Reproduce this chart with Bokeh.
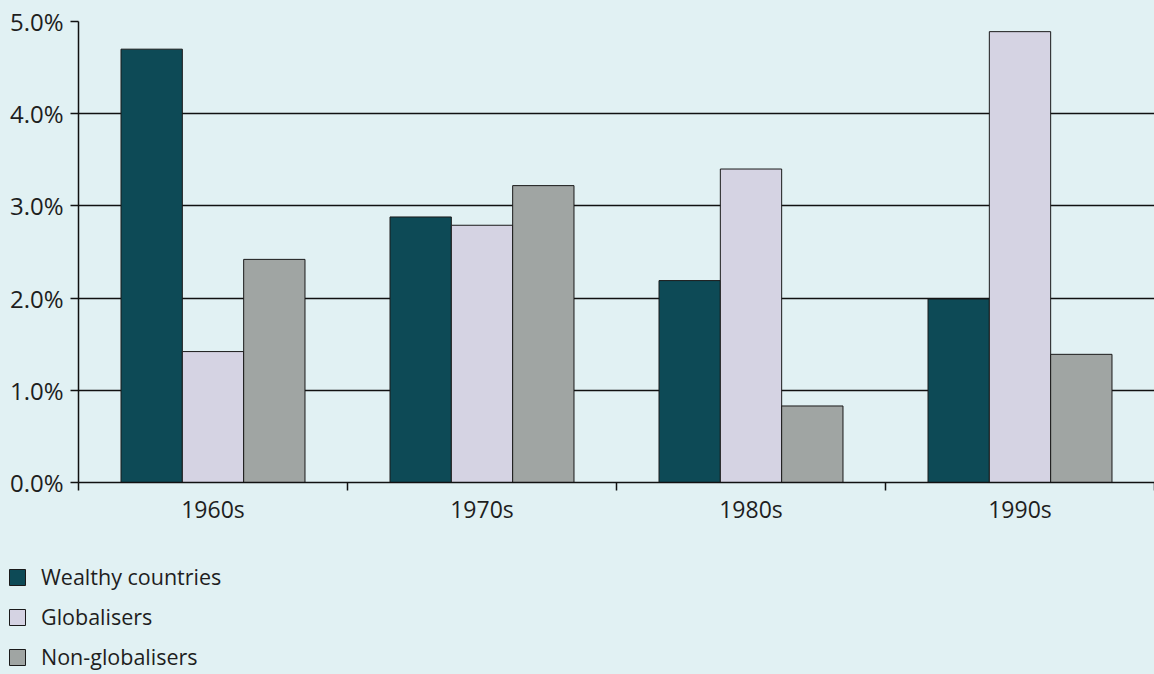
from bokeh.plotting import figure
from bokeh.layouts import column, row
from bokeh.models import FixedTicker, Legend, LegendItem, Range1d
from bokeh.embed import file_html
from bokeh.resources import INLINE

categories = ["1960s", "1970s", "1980s", "1990s"]
wealthy = [4.70, 2.88, 2.19, 1.99]
globalisers = [1.42, 2.79, 3.40, 4.89]
non_globalisers = [2.42, 3.22, 0.83, 1.39]
series_names = ["Wealthy countries", "Globalisers", "Non-globalisers"]
y_ticks = [0, 1, 2, 3, 4, 5]

colors = ["#0d4a56", "#d5d3e3", "#a0a5a3"]
BG = "#e1f1f3"
FONT = "Open Sans"
INK = "#111111"
TXT = "#1e1e1e"

p = figure(width=1154, height=540, output_backend="svg", toolbar_location=None,
           x_range=Range1d(0, len(categories)), y_range=Range1d(0, 5),
           min_border_left=78, min_border_right=0, min_border_top=21,
           min_border_bottom=58)
p.background_fill_color = BG
p.border_fill_color = BG
p.outline_line_color = None

centers = [i + 0.5 for i in range(len(categories))]
width = 0.228
offsets = [-width, 0, width]
series = [wealthy, globalisers, non_globalisers]
for vals, off, col in zip(series, offsets, colors):
    p.vbar(x=[c + off for c in centers], top=vals, bottom=0, width=width,
           fill_color=col, line_color="#1a1a1a", line_width=1)

# x axis: labels at centres, ticks at category boundaries
p.xaxis.ticker = FixedTicker(ticks=centers, minor_ticks=list(range(len(categories) + 1)))
p.xaxis.major_label_overrides = {c: lab for c, lab in zip(centers, categories)}
p.xaxis.major_tick_out = 0
p.xaxis.major_tick_in = 0
p.xaxis.minor_tick_out = 8
p.xaxis.minor_tick_in = 0
p.xaxis.minor_tick_line_color = INK
p.xaxis.minor_tick_line_width = 1.5
p.xaxis.axis_line_color = INK
p.xaxis.axis_line_width = 1.5
p.xaxis.major_label_text_font = FONT
p.xaxis.major_label_text_font_size = "23px"
p.xaxis.major_label_text_color = TXT
p.xaxis.major_label_standoff = 2

p.yaxis.ticker = FixedTicker(ticks=y_ticks, minor_ticks=[])
p.yaxis.major_label_overrides = {t: f"{t:.1f}%" for t in y_ticks}
p.yaxis.major_tick_out = 8
p.yaxis.major_tick_in = 0
p.yaxis.major_tick_line_color = INK
p.yaxis.major_tick_line_width = 1.5
p.yaxis.axis_line_color = INK
p.yaxis.axis_line_width = 1.5
p.yaxis.major_label_text_font = FONT
p.yaxis.major_label_text_font_size = "24px"
p.yaxis.major_label_text_color = TXT
p.yaxis.major_label_standoff = 7

p.xgrid.grid_line_color = None
p.ygrid.grid_line_color = INK
p.ygrid.grid_line_width = 1.5
p.ygrid.ticker = FixedTicker(ticks=y_ticks)

# legend figure (its ranges keep the copied bars out of view; only the legend shows)
lf = figure(width=1154, height=134, output_backend="svg", toolbar_location=None,
            x_range=Range1d(-3, -2), y_range=Range1d(0, 5),
            min_border=0, min_border_left=0, min_border_right=0,
            min_border_top=0, min_border_bottom=0)
lf.axis.visible = False
lf.grid.visible = False
lf.background_fill_color = BG
lf.border_fill_color = BG
lf.outline_line_color = None
items = []
for name, vals, off, col in zip(series_names, series, offsets, colors):
    r = lf.vbar(x=[c + off for c in centers], top=vals, bottom=0, width=width,
                fill_color=col, line_color="#1a1a1a", line_width=1)
    items.append(LegendItem(label=name, renderers=[r]))

legend = Legend(items=items, location=(7, 3), orientation="vertical")
legend.background_fill_alpha = 0
legend.border_line_color = None
legend.padding = 0
legend.margin = 0
legend.spacing = 11
legend.glyph_width = 20
legend.glyph_height = 20
legend.label_height = 20
legend.label_standoff = 14
legend.label_text_font = FONT
legend.label_text_font_size = "21.5px"
legend.label_text_color = TXT
legend.label_text_baseline = "middle"
lf.add_layout(legend, "center")

layout = column(p, row(lf), spacing=0)
layout.styles = {"background-color": BG}
html = file_html(layout, INLINE)
html = html.replace("<body>", f'<body style="margin:0; background:{BG}; overflow:hidden;">', 1)
open("out.html", "w").write(html)
